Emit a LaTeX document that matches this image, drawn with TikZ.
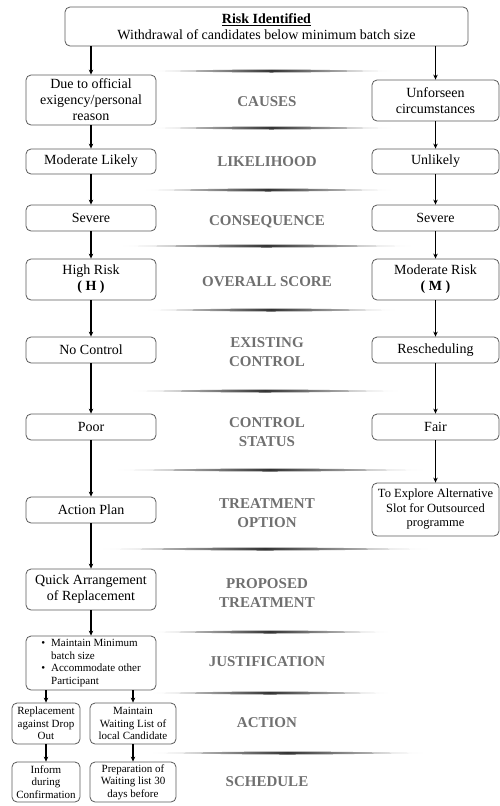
\documentclass[tikz,border=0pt]{standalone}
\usepackage{fontspec}
\setmainfont{Liberation Serif}
\usepackage{tikz}
\usetikzlibrary{arrows.meta, positioning, calc}
\definecolor{boxgray}{RGB}{90,90,90}
\definecolor{labelgray}{RGB}{112,112,112}
\tikzset{
    riskblock/.style={rectangle, draw=boxgray, fill=white, rounded corners=5pt, minimum width=130pt, align=center, inner sep=2pt, line width=0.8pt, font=\fontsize{14}{16}\selectfont},
    risksmall/.style={riskblock, font=\fontsize{11}{12.5}\selectfont},
    riskarrow/.style={-{Stealth[length=5pt, width=4.5pt]}, line width=1.2pt, black},
    risklabel/.style={font=\fontsize{15}{19}\selectfont\bfseries, text=labelgray, align=center},
    risksep/.style={left color=white, right color=white, middle color=black!80}
}

\begin{document}
\begin{tikzpicture}[x=1pt, y=-1pt]
\useasboundingbox (0,0) rectangle (500,806);

% separators between the rows
\foreach \y/\a/\b in {71/150/393, 128/150/393, 190/143/393, 246/120/413, 310/145/397, 391/130/400, 470/115/425, 549/100/430, 632/150/390, 693/150/390, 753/150/425}
    \shade[risksep] (\a,\y) .. controls ({(\a+\b)/2},\y-2) .. (\b,\y) .. controls ({(\a+\b)/2},\y+2) .. cycle;

\node[riskblock, minimum width=403pt, minimum height=39pt, inner sep=1pt] (risk) at (266.5,26.5) {\underline{\textbf{Risk Identified}}\\Withdrawal of candidates below minimum batch size};

% left column
\node[riskblock, minimum height=50pt] (causesL) at (91,100) {Due to official\\exigency/personal\\reason};
\node[riskblock, minimum height=25pt] (likeL) at (91,161.5) {Moderate Likely};
\node[riskblock, minimum height=26pt] (conseqL) at (91,218) {Severe};
\node[riskblock, minimum height=41pt] (scoreL) at (91,279.5) {High Risk\\\textbf{( H )}};
\node[riskblock, minimum height=26pt] (existL) at (91,350) {No Control};
\node[riskblock, minimum height=26pt] (statusL) at (91,427) {Poor};
\node[riskblock, minimum height=26pt] (treatL) at (91,510) {Action Plan};
\node[riskblock, minimum height=41pt] (propL) at (91,589.5) {Quick Arrangement\\of Replacement};
\node[risksmall, minimum height=50pt] (justL) at (91,663) {\begin{tabular}{@{}l@{\hspace{6pt}}l@{}}\textbullet & Maintain Minimum\\ & batch size\\ \textbullet & Accommodate other\\ & Participant\end{tabular}};
\node[risksmall, minimum width=68pt, minimum height=41pt] (actA) at (46,723.5) {Replacement\\against Drop\\Out};
\node[risksmall, minimum width=86pt, minimum height=41pt] (actB) at (133,723.5) {Maintain\\Waiting List of\\local Candidate};
\node[risksmall, minimum width=68pt, minimum height=40pt] (schedA) at (46,782) {Inform\\during\\Confirmation};
\node[risksmall, minimum width=86pt, minimum height=40pt] (schedB) at (133,782) {Preparation of\\Waiting list 30\\days before};

% right column
\node[riskblock, minimum width=127pt, minimum height=41pt] (causesR) at (435.5,100.5) {Unforseen\\circumstances};
\node[riskblock, minimum width=127pt, minimum height=25pt] (likeR) at (435.5,161.5) {Unlikely};
\node[riskblock, minimum width=127pt, minimum height=26pt] (conseqR) at (435.5,218) {Severe};
\node[riskblock, minimum width=127pt, minimum height=41pt] (scoreR) at (435.5,279.5) {Moderate Risk\\\textbf{( M )}};
\node[riskblock, minimum width=127pt, minimum height=26pt] (existR) at (435.5,350) {Rescheduling};
\node[riskblock, minimum width=127pt, minimum height=26pt] (statusR) at (435.5,427) {Fair};
\node[riskblock, minimum width=127pt, minimum height=53pt, font=\fontsize{12.5}{14.5}\selectfont] (treatR) at (435.5,509.5) {To Explore Alternative\\Slot for Outsourced\\programme};

% row labels
\node[risklabel] (causes) at (267,102) {CAUSES};
\node[risklabel] (like) at (267,162) {LIKELIHOOD};
\node[risklabel] (conseq) at (267,222) {CONSEQUENCE};
\node[risklabel] (score) at (267,282) {OVERALL SCORE};
\node[risklabel] (exist) at (267,352) {EXISTING\\CONTROL};
\node[risklabel] (status) at (267,432) {CONTROL\\STATUS};
\node[risklabel] (treat) at (267,513) {TREATMENT\\OPTION};
\node[risklabel] (prop) at (267,593) {PROPOSED\\TREATMENT};
\node[risklabel] (just) at (267,662) {JUSTIFICATION};
\node[risklabel] (act) at (267,723) {ACTION};
\node[risklabel] (sched) at (267,782) {SCHEDULE};

\draw[riskarrow] (risk.south -| causesL.north) -- (causesL);
\draw[riskarrow] (risk.south -| causesR.north) -- (causesR);
\draw[riskarrow] (causesL) -- (likeL);
\draw[riskarrow] (likeL) -- (conseqL);
\draw[riskarrow] (conseqL) -- (scoreL);
\draw[riskarrow] (scoreL) -- (existL);
\draw[riskarrow] (existL) -- (statusL);
\draw[riskarrow] (statusL) -- (treatL);
\draw[riskarrow] (treatL) -- (propL);
\draw[riskarrow] (propL) -- (justL);
\draw[riskarrow] (justL.south -| actA.north) -- (actA);
\draw[riskarrow] (justL.south -| actB.north) -- (actB);
\draw[riskarrow] (actA) -- (schedA);
\draw[riskarrow] (actB) -- (schedB);
\draw[riskarrow] (causesR) -- (likeR);
\draw[riskarrow] (likeR) -- (conseqR);
\draw[riskarrow] (conseqR) -- (scoreR);
\draw[riskarrow] (scoreR) -- (existR);
\draw[riskarrow] (existR) -- (statusR);
\draw[riskarrow] (statusR) -- (treatR);

\end{tikzpicture}
\end{document}
